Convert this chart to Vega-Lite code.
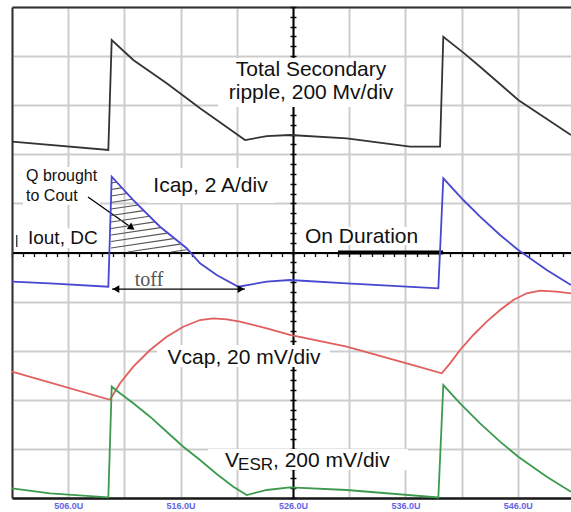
{
  "$schema": "https://vega.github.io/schema/vega-lite/v6.json",
  "width": 559,
  "height": 491,
  "autosize": {"type": "none"},
  "padding": {"left": 12, "top": 7, "right": 0, "bottom": 14},
  "background": "white",
  "config": {"view": {"stroke": null}, "font": "Liberation Sans", "text": {"font": "Liberation Sans"}},
  "datasets": {
    "boxes": [
      {"x": 519.33, "x2": 535.88, "y": 7.963, "y2": 8.961},
      {"x": 513.01, "x2": 524.40, "y": 6.008, "y2": 6.721},
      {"x": 501.98, "x2": 508.83, "y": 5.967, "y2": 6.741},
      {"x": 501.27, "x2": 509.27, "y": 5.092, "y2": 5.499},
      {"x": 526.36, "x2": 538.37, "y": 5.153, "y2": 5.519},
      {"x": 513.90, "x2": 529.29, "y": 2.668, "y2": 3.116},
      {"x": 518.44, "x2": 536.23, "y": 0.570, "y2": 0.998}
    ],
    "traces": [
      {"s": "ripple", "x": 501.0, "y": 7.257},
      {"s": "ripple", "x": 509.57, "y": 7.088},
      {"s": "ripple", "x": 509.87, "y": 9.328},
      {"s": "ripple", "x": 511.79, "y": 8.921},
      {"s": "ripple", "x": 514.76, "y": 8.446},
      {"s": "ripple", "x": 517.73, "y": 7.937},
      {"s": "ripple", "x": 520.69, "y": 7.46},
      {"s": "ripple", "x": 521.73, "y": 7.291},
      {"s": "ripple", "x": 523.66, "y": 7.37},
      {"s": "ripple", "x": 525.73, "y": 7.393},
      {"s": "ripple", "x": 530.78, "y": 7.326},
      {"s": "ripple", "x": 536.41, "y": 7.155},
      {"s": "ripple", "x": 539.08, "y": 7.155},
      {"s": "ripple", "x": 539.37, "y": 9.395},
      {"s": "ripple", "x": 541.15, "y": 9.07},
      {"s": "ripple", "x": 542.64, "y": 8.784},
      {"s": "ripple", "x": 546.04, "y": 8.106},
      {"s": "ripple", "x": 550.73, "y": 7.393},
      {"s": "icap", "x": 501.0, "y": 4.405},
      {"s": "icap", "x": 504.38, "y": 4.373},
      {"s": "icap", "x": 509.57, "y": 4.303},
      {"s": "icap", "x": 509.87, "y": 6.544},
      {"s": "icap", "x": 511.79, "y": 6.069},
      {"s": "icap", "x": 514.17, "y": 5.525},
      {"s": "icap", "x": 516.54, "y": 5.086},
      {"s": "icap", "x": 517.73, "y": 4.78},
      {"s": "icap", "x": 519.21, "y": 4.542},
      {"s": "icap", "x": 521.13, "y": 4.303},
      {"s": "icap", "x": 523.66, "y": 4.405},
      {"s": "icap", "x": 525.73, "y": 4.44},
      {"s": "icap", "x": 530.78, "y": 4.373},
      {"s": "icap", "x": 536.12, "y": 4.303},
      {"s": "icap", "x": 538.93, "y": 4.271},
      {"s": "icap", "x": 539.37, "y": 6.511},
      {"s": "icap", "x": 541.15, "y": 6.069},
      {"s": "icap", "x": 542.64, "y": 5.729},
      {"s": "icap", "x": 544.42, "y": 5.356},
      {"s": "icap", "x": 546.04, "y": 5.051},
      {"s": "icap", "x": 548.57, "y": 4.644},
      {"s": "icap", "x": 550.73, "y": 4.338},
      {"s": "vcap", "x": 501.0, "y": 2.572},
      {"s": "vcap", "x": 509.72, "y": 2.0},
      {"s": "vcap", "x": 510.61, "y": 2.336},
      {"s": "vcap", "x": 511.79, "y": 2.674},
      {"s": "vcap", "x": 513.28, "y": 3.014},
      {"s": "vcap", "x": 514.76, "y": 3.285},
      {"s": "vcap", "x": 516.24, "y": 3.489},
      {"s": "vcap", "x": 517.73, "y": 3.625},
      {"s": "vcap", "x": 518.91, "y": 3.66},
      {"s": "vcap", "x": 520.1, "y": 3.64},
      {"s": "vcap", "x": 521.28, "y": 3.591},
      {"s": "vcap", "x": 523.66, "y": 3.456},
      {"s": "vcap", "x": 525.73, "y": 3.32},
      {"s": "vcap", "x": 530.78, "y": 3.082},
      {"s": "vcap", "x": 536.12, "y": 2.743},
      {"s": "vcap", "x": 539.23, "y": 2.54},
      {"s": "vcap", "x": 539.97, "y": 2.743},
      {"s": "vcap", "x": 540.86, "y": 3.014},
      {"s": "vcap", "x": 542.04, "y": 3.32},
      {"s": "vcap", "x": 543.23, "y": 3.591},
      {"s": "vcap", "x": 544.42, "y": 3.829},
      {"s": "vcap", "x": 545.6, "y": 4.033},
      {"s": "vcap", "x": 546.79, "y": 4.169},
      {"s": "vcap", "x": 547.98, "y": 4.222},
      {"s": "vcap", "x": 549.46, "y": 4.202},
      {"s": "vcap", "x": 550.73, "y": 4.169},
      {"s": "vesr", "x": 501.0, "y": 0.198},
      {"s": "vesr", "x": 504.38, "y": 0.096},
      {"s": "vesr", "x": 509.57, "y": 0.014},
      {"s": "vesr", "x": 509.87, "y": 2.267},
      {"s": "vesr", "x": 510.61, "y": 2.132},
      {"s": "vesr", "x": 511.79, "y": 1.929},
      {"s": "vesr", "x": 513.28, "y": 1.656},
      {"s": "vesr", "x": 514.76, "y": 1.35},
      {"s": "vesr", "x": 516.24, "y": 1.045},
      {"s": "vesr", "x": 517.73, "y": 0.774},
      {"s": "vesr", "x": 519.21, "y": 0.489},
      {"s": "vesr", "x": 520.69, "y": 0.23},
      {"s": "vesr", "x": 521.88, "y": 0.061},
      {"s": "vesr", "x": 523.66, "y": 0.163},
      {"s": "vesr", "x": 525.73, "y": 0.218},
      {"s": "vesr", "x": 530.78, "y": 0.163},
      {"s": "vesr", "x": 538.93, "y": 0.01},
      {"s": "vesr", "x": 539.37, "y": 2.301},
      {"s": "vesr", "x": 540.86, "y": 1.929},
      {"s": "vesr", "x": 542.64, "y": 1.521},
      {"s": "vesr", "x": 544.42, "y": 1.147},
      {"s": "vesr", "x": 546.04, "y": 0.841},
      {"s": "vesr", "x": 548.57, "y": 0.434},
      {"s": "vesr", "x": 550.73, "y": 0.128}
    ],
    "hatch": [
      {"x": 509.81, "y": 6.415, "x2": 510.25, "y2": 6.432},
      {"x": 509.81, "y": 6.283, "x2": 510.74, "y2": 6.316},
      {"x": 509.81, "y": 6.151, "x2": 511.22, "y2": 6.2},
      {"x": 509.81, "y": 6.018, "x2": 511.7, "y2": 6.084},
      {"x": 509.81, "y": 5.886, "x2": 512.21, "y2": 5.967},
      {"x": 509.81, "y": 5.754, "x2": 512.71, "y2": 5.853},
      {"x": 509.81, "y": 5.621, "x2": 513.22, "y2": 5.737},
      {"x": 509.81, "y": 5.489, "x2": 513.71, "y2": 5.623},
      {"x": 509.81, "y": 5.356, "x2": 514.22, "y2": 5.507},
      {"x": 509.81, "y": 5.224, "x2": 514.8, "y2": 5.395},
      {"x": 509.81, "y": 5.092, "x2": 515.38, "y2": 5.283},
      {"x": 511.29, "y": 5.01, "x2": 515.96, "y2": 5.171},
      {"x": 515.15, "y": 5.01, "x2": 516.53, "y2": 5.057}
    ],
    "arrows": [
      {"x": 507.76, "y": 6.13, "x2": 511.68, "y2": 5.499},
      {"x": 509.9, "y": 4.256, "x2": 521.73, "y2": 4.256}
    ]
  },
  "encoding": {
    "x": {"field": "x", "type": "quantitative", "scale": {"domain": [501, 550.73], "nice": false, "zero": false}, "axis": null},
    "y": {"field": "y", "type": "quantitative", "scale": {"domain": [0, 10], "nice": false, "zero": false}, "axis": null}
  },
  "layer": [
    {
      "data": {"name": "boxes"},
      "mark": {"type": "rect", "fill": "white", "stroke": null},
      "encoding": {
        "x": {"field": "x", "type": "quantitative", "scale": {"domain": [501, 550.73], "nice": false, "zero": false},
          "axis": {"orient": "bottom", "title": null, "values": [501, 506, 511, 516, 521, 526, 531, 536, 541, 546],
            "grid": true, "gridColor": "#cdcdcd", "gridWidth": 2, "domain": true, "domainColor": "#1a1a1a", "domainWidth": 2.5,
            "ticks": false, "labelExpr": "(datum.value - 506) % 10 == 0 ? format(datum.value, '.1f') + 'U' : ''",
            "labelColor": "#6464e6", "labelFontSize": 9, "labelFontWeight": "bold", "labelPadding": 3, "labelBaseline": "top",
            "labelOverlap": false, "labelFlush": false, "zindex": 0}},
        "x2": {"field": "x2"},
        "y": {"field": "y", "type": "quantitative", "scale": {"domain": [0, 10], "nice": false, "zero": false},
          "axis": {"orient": "left", "title": null, "values": [0, 1, 2, 3, 4, 5, 6, 7, 8, 9, 10],
            "grid": true, "gridColor": "#cdcdcd", "gridWidth": 2, "domain": true, "domainColor": "#333333", "domainWidth": 2,
            "ticks": false, "labels": false, "zindex": 0}},
        "y2": {"field": "y2"}
      }
    },
    {
      "data": {"values": [{"x": 530.0, "x2": 539.35, "y": 5.0}]},
      "mark": {"type": "rule", "color": "#000000", "strokeWidth": 4},
      "encoding": {
        "x": {"field": "x", "type": "quantitative", "scale": {"domain": [501, 550.73], "nice": false, "zero": false},
          "axis": {"orient": "top", "title": null, "grid": false, "domain": true, "domainColor": "#333333", "domainWidth": 2,
            "ticks": false, "labels": false, "zindex": 0}},
        "x2": {"field": "x2"},
        "y": {"field": "y", "type": "quantitative", "scale": {"domain": [0, 10], "nice": false, "zero": false},
          "axis": {"orient": "right", "offset": -278, "title": null, "grid": false, "domain": false, "labels": false,
            "values": [0, 0.2, 0.4, 0.6, 0.8, 1, 1.2, 1.4, 1.6, 1.8, 2, 2.2, 2.4, 2.6, 2.8, 3, 3.2, 3.4, 3.6, 3.8, 4, 4.2, 4.4, 4.6, 4.8, 5, 5.2, 5.4, 5.6, 5.8, 6, 6.2, 6.4, 6.6, 6.8, 7, 7.2, 7.4, 7.6, 7.8, 8, 8.2, 8.4, 8.6, 8.8, 9, 9.2, 9.4, 9.6, 9.8, 10],
            "ticks": true, "tickSize": 3, "tickColor": "#111111", "tickWidth": 1.5, "zindex": 0}}
      }
    },
    {
      "data": {"name": "arrows"},
      "mark": {"type": "rule", "color": "#000000", "strokeWidth": 1.3},
      "encoding": {
        "x": {"field": "x", "type": "quantitative", "scale": {"domain": [501, 550.73], "nice": false, "zero": false},
          "axis": {"orient": "bottom", "offset": -245.5, "title": null, "grid": false, "domain": true, "domainColor": "#000000", "domainWidth": 2,
            "labels": false, "values": [501, 502, 503, 504, 505, 506, 507, 508, 509, 510, 511, 512, 513, 514, 515, 516, 517, 518, 519, 520, 521, 522, 523, 524, 525, 526, 527, 528, 529, 530, 531, 532, 533, 534, 535, 536, 537, 538, 539, 540, 541, 542, 543, 544, 545, 546, 547, 548, 549, 550],
            "ticks": true, "tickSize": 4, "tickColor": "#111111", "tickWidth": 1.3, "zindex": 0}},
        "x2": {"field": "x2"},
        "y": {"field": "y", "type": "quantitative", "scale": {"domain": [0, 10], "nice": false, "zero": false},
          "axis": {"orient": "left", "offset": -281, "title": null, "grid": false, "domain": true, "domainColor": "#000000", "domainWidth": 2,
            "labels": false,
            "values": [0, 0.2, 0.4, 0.6, 0.8, 1, 1.2, 1.4, 1.6, 1.8, 2, 2.2, 2.4, 2.6, 2.8, 3, 3.2, 3.4, 3.6, 3.8, 4, 4.2, 4.4, 4.6, 4.8, 5, 5.2, 5.4, 5.6, 5.8, 6, 6.2, 6.4, 6.6, 6.8, 7, 7.2, 7.4, 7.6, 7.8, 8, 8.2, 8.4, 8.6, 8.8, 9, 9.2, 9.4, 9.6, 9.8, 10],
            "ticks": true, "tickSize": 3, "tickColor": "#111111", "tickWidth": 1.5, "zindex": 0}},
        "y2": {"field": "y2"}
      }
    },
    {
      "data": {"name": "hatch"},
      "mark": {"type": "rule", "color": "#555555", "strokeWidth": 1.1},
      "encoding": {"x2": {"field": "x2"}, "y2": {"field": "y2"}}
    },
    {
      "data": {"values": [{"x": 501.42, "y": 5.112, "y2": 5.356}]},
      "mark": {"type": "rule", "color": "#444444", "strokeWidth": 1.5},
      "encoding": {"y2": {"field": "y2"}}
    },
    {
      "data": {"name": "traces"},
      "mark": {"type": "line", "strokeWidth": 1.8},
      "encoding": {
        "color": {"field": "s", "type": "nominal", "legend": null,
          "scale": {"domain": ["ripple", "icap", "vcap", "vesr"], "range": ["#333333", "#4747d1", "#e35d5d", "#3c9a4f"]}}
      }
    },
    {
      "data": {"values": [{"x": 510.25, "y": 4.256}]},
      "mark": {"type": "point", "shape": "triangle-left", "filled": true, "color": "#000000", "size": 60, "opacity": 1}
    },
    {
      "data": {"values": [{"x": 521.37, "y": 4.256}]},
      "mark": {"type": "point", "shape": "triangle-right", "filled": true, "color": "#000000", "size": 60, "opacity": 1}
    },
    {
      "data": {"values": [{"x": 511.65, "y": 5.505}]},
      "mark": {"type": "point", "shape": "triangle-right", "angle": 35, "filled": true, "color": "#000000", "size": 60, "opacity": 1}
    },
    {
      "data": {"values": [
        {"x": 527.6, "y": 8.595, "text": "Total Secondary"},
        {"x": 527.6, "y": 8.12, "text": "ripple, 200 Mv/div"},
        {"x": 518.66, "y": 6.232, "text": "Icap, 2 A/div"},
        {"x": 532.1, "y": 5.187, "text": "On Duration"},
        {"x": 521.64, "y": 2.729, "text": "Vcap, 20 mV/div"}
      ]},
      "mark": {"type": "text", "fontSize": 21, "align": "center", "baseline": "alphabetic", "color": "#111111"},
      "encoding": {"text": {"field": "text"}}
    },
    {
      "data": {"values": [
        {"x": 519.95, "y": 0.631, "text": "V"},
        {"x": 524.22, "y": 0.631, "text": ", 200 mV/div"}
      ]},
      "mark": {"type": "text", "fontSize": 21, "align": "left", "baseline": "alphabetic", "color": "#111111"},
      "encoding": {"text": {"field": "text"}}
    },
    {
      "data": {"values": [{"x": 521.11, "y": 0.58, "text": "ESR"}]},
      "mark": {"type": "text", "fontSize": 17, "align": "left", "baseline": "alphabetic", "color": "#111111"},
      "encoding": {"text": {"field": "text"}}
    },
    {
      "data": {"values": [{"x": 502.42, "y": 5.173, "text": "Iout, DC"}]},
      "mark": {"type": "text", "fontSize": 19, "align": "left", "baseline": "alphabetic", "color": "#111111"},
      "encoding": {"text": {"field": "text"}}
    },
    {
      "data": {"values": [
        {"x": 502.25, "y": 6.466, "text": "Q brought"},
        {"x": 502.25, "y": 6.055, "text": "to Cout"}
      ]},
      "mark": {"type": "text", "fontSize": 16, "align": "left", "baseline": "alphabetic", "color": "#111111"},
      "encoding": {"text": {"field": "text"}}
    },
    {
      "data": {"values": [{"x": 513.19, "y": 4.31, "text": "toff"}]},
      "mark": {"type": "text", "font": "Liberation Serif", "fontSize": 20, "align": "center", "baseline": "alphabetic", "color": "#555555"},
      "encoding": {"text": {"field": "text"}}
    }
  ],
  "resolve": {"axis": {"x": "independent", "y": "independent"}}
}
